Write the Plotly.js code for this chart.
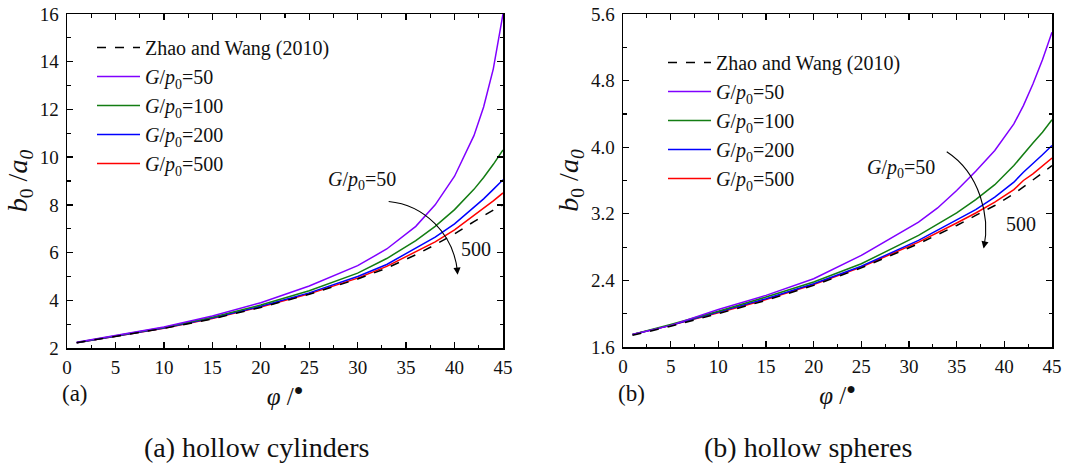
<!DOCTYPE html>
<html><head><meta charset="utf-8">
<script src="https://cdn.plot.ly/plotly-3.0.1.min.js"></script>
<style>html,body{margin:0;padding:0;background:#fff;} #chart{width:1084px;height:466px;}</style>
</head><body><div id="chart"></div>
<script>
// ---- (a) hollow cylinders ----
const phiCyl = [1, 5, 10, 15, 20, 25, 30, 33, 36, 38, 40, 42, 43, 44, 45];
const cylZhao = [2.22, 2.48, 2.82, 3.22, 3.70, 4.25, 4.89, 5.35, 5.91, 6.33, 6.78, 7.30, 7.55, 7.78, 8.00];
const cyl50   = [2.24, 2.52, 2.88, 3.34, 3.90, 4.60, 5.45, 6.15, 7.10, 8.00, 9.20, 10.90, 12.10, 13.70, 16.00];
const cyl100  = [2.23, 2.50, 2.86, 3.29, 3.80, 4.40, 5.14, 5.75, 6.50, 7.10, 7.80, 8.65, 9.15, 9.70, 10.30];
const cyl200  = [2.22, 2.49, 2.84, 3.26, 3.75, 4.31, 5.00, 5.50, 6.17, 6.65, 7.20, 7.90, 8.25, 8.65, 9.05];
const cyl500  = [2.22, 2.48, 2.83, 3.24, 3.72, 4.27, 4.93, 5.42, 6.02, 6.45, 6.95, 7.55, 7.85, 8.17, 8.50];

// ---- (b) hollow spheres ----
const phiSph = [1, 5, 10, 15, 20, 25, 31, 33, 35, 37, 39, 41, 42, 43, 44, 45];
const sphZhao = [1.74, 1.85, 2.00, 2.16, 2.34, 2.55, 2.84, 2.95, 3.06, 3.18, 3.30, 3.44, 3.52, 3.60, 3.69, 3.78];
const sph50   = [1.75, 1.86, 2.05, 2.22, 2.42, 2.70, 3.10, 3.27, 3.48, 3.71, 3.96, 4.28, 4.50, 4.76, 5.05, 5.38];
const sph100  = [1.75, 1.87, 2.03, 2.20, 2.38, 2.60, 2.94, 3.07, 3.21, 3.37, 3.55, 3.78, 3.92, 4.05, 4.18, 4.33];
const sph200  = [1.75, 1.86, 2.02, 2.18, 2.36, 2.57, 2.88, 3.00, 3.12, 3.25, 3.40, 3.58, 3.70, 3.80, 3.91, 4.02];
const sph500  = [1.75, 1.86, 2.01, 2.17, 2.35, 2.56, 2.86, 2.97, 3.09, 3.21, 3.34, 3.49, 3.60, 3.68, 3.77, 3.87];

const seriesNames = ['Zhao and Wang (2010)', '<i>G</i>/<i>p</i><sub>0</sub>=50', '<i>G</i>/<i>p</i><sub>0</sub>=100',
                     '<i>G</i>/<i>p</i><sub>0</sub>=200', '<i>G</i>/<i>p</i><sub>0</sub>=500'];
const seriesColors = ['#000000', '#8000ff', '#137d13', '#0000ff', '#ff0000'];
const panelCaptions = ['(a) hollow cylinders', '(b) hollow spheres'];
const panelLetters = ['(a)', '(b)'];

const FONT = '"Liberation Serif", "Times New Roman", Times, serif';

function mk(x, y, i, xa, ya, leg) {
  return {
    x: x, y: y, type: 'scatter', mode: 'lines', name: seriesNames[i],
    xaxis: xa, yaxis: ya, legend: leg, legendrank: i + 1,
    line: {color: seriesColors[i], width: 1.5, dash: i === 0 ? 'dash' : 'solid'}
  };
}
const traces = [];
const cylSets = [cylZhao, cyl50, cyl100, cyl200, cyl500];
const sphSets = [sphZhao, sph50, sph100, sph200, sph500];
for (let i = 4; i >= 0; i--) traces.push(mk(phiCyl, cylSets[i], i, 'x', 'y', 'legend'));
for (let i = 4; i >= 0; i--) traces.push(mk(phiSph, sphSets[i], i, 'x2', 'y2', 'legend2'));

const W = 1084, H = 466;
const axBase = {
  showgrid: false, zeroline: false, showline: true, linecolor: '#000', linewidth: 1.5,
  mirror: 'allticks', ticks: 'inside', ticklen: 6, tickwidth: 1.3, tickcolor: '#000',
  tickfont: {family: FONT, size: 19, color: '#111'}, automargin: false,
};
const minorX = {dtick: 2.5, ticks: 'inside', ticklen: 3.5, tickwidth: 1.2, tickcolor: '#000', showgrid: false};

const xTitle = '<i>φ</i> /<sup><span style="font-size:16px">●</span></sup>';
const yTitle = '<i>b</i><sub>0</sub> /<i>a<sub>0</sub></i>';

const txt = (size) => ({family: FONT, size: size, color: '#111'});
function paperNote(x, y, text, size) {
  return {xref: 'paper', yref: 'paper', x: x / W, y: 1 - y / H, xanchor: 'center', yanchor: 'middle',
    text: text, showarrow: false, font: txt(size)};
}

const layout = {
  width: W, height: H, margin: {l: 0, r: 0, t: 0, b: 0},
  paper_bgcolor: '#fff', plot_bgcolor: '#fff', showlegend: true,
  font: {family: FONT, color: '#111'},
  xaxis: Object.assign({}, axBase, {domain: [67/W, 503/W], anchor: 'y', range: [0, 45], dtick: 5, tick0: 0,
    ticklabelstandoff: 2, minor: minorX, title: {text: xTitle, font: txt(25), standoff: 10}}),
  yaxis: Object.assign({}, axBase, {domain: [(H-348)/H, (H-14)/H], anchor: 'x', range: [2, 16], dtick: 2, tick0: 2,
    ticklabelstandoff: 3,
    minor: {dtick: 1, ticks: 'inside', ticklen: 3.5, tickwidth: 1.2, tickcolor: '#000', showgrid: false},
    title: {text: yTitle, font: txt(28), standoff: 4}}),
  xaxis2: Object.assign({}, axBase, {domain: [623/W, 1052/W], anchor: 'y2', range: [0, 45], dtick: 5, tick0: 0,
    ticklabelstandoff: 2, minor: minorX, title: {text: xTitle, font: txt(25), standoff: 10}}),
  yaxis2: Object.assign({}, axBase, {domain: [(H-347)/H, (H-14)/H], anchor: 'x2', range: [1.6, 5.6], dtick: 0.8, tick0: 1.6,
    tickformat: '.1f', ticklabelstandoff: 3,
    minor: {dtick: 0.4, ticks: 'inside', ticklen: 3.5, tickwidth: 1.2, tickcolor: '#000', showgrid: false},
    title: {text: yTitle, font: txt(28), standoff: 4}}),
  legend: {x: 92/W, y: 1 - 28/H, xanchor: 'left', yanchor: 'top', bgcolor: 'rgba(0,0,0,0)',
    font: txt(20), itemwidth: 43, traceorder: 'normal'},
  legend2: {x: 663/W, y: 1 - 43/H, xanchor: 'left', yanchor: 'top', bgcolor: 'rgba(0,0,0,0)',
    font: txt(20), itemwidth: 43, traceorder: 'normal'},
  annotations: [
    {xref: 'x', yref: 'y', x: 30.4, y: 9.04, text: '<i>G</i>/<i>p</i><sub>0</sub>=50', showarrow: false, font: txt(20)},
    {xref: 'x', yref: 'y', x: 42.2, y: 6.15, text: '500', showarrow: false, font: txt(20)},
    {xref: 'x', yref: 'y', x: 40.32, y: 5.07, ax: 40.26, ay: 5.33, axref: 'x', ayref: 'y', text: '',
      showarrow: true, arrowhead: 2, arrowsize: 1.3, arrowwidth: 1.1, arrowcolor: '#000'},
    {xref: 'x2', yref: 'y2', x: 29.2, y: 3.74, text: '<i>G</i>/<i>p</i><sub>0</sub>=50', showarrow: false, font: txt(20)},
    {xref: 'x2', yref: 'y2', x: 41.7, y: 3.08, text: '500', showarrow: false, font: txt(20)},
    {xref: 'x2', yref: 'y2', x: 37.82, y: 2.782, ax: 37.925, ay: 2.839, axref: 'x2', ayref: 'y2', text: '',
      showarrow: true, arrowhead: 2, arrowsize: 1.3, arrowwidth: 1.1, arrowcolor: '#000'},
    paperNote(75, 393, panelLetters[0], 23),
    paperNote(631, 393, panelLetters[1], 23),
    paperNote(257, 447, panelCaptions[0], 28),
    paperNote(808, 447, panelCaptions[1], 28)
  ],
  shapes: [
    {type: 'path', xref: 'x', yref: 'y', path: 'M 33.2 8.14 C 36.81 8.0, 39.9 6.81, 40.3 5.2',
      line: {color: '#000', width: 1.1}},
    {type: 'path', xref: 'x2', yref: 'y2', path: 'M 33.96 3.945 C 37.46 3.684, 38.52 3.163, 37.86 2.80',
      line: {color: '#000', width: 1.1}}
  ]
};

Plotly.newPlot('chart', traces, layout, {staticPlot: true, displayModeBar: false});
</script></body></html>
